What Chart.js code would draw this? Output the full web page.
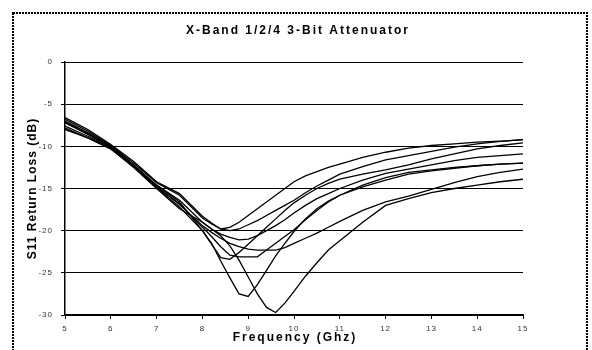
<!DOCTYPE html>
<html>
<head>
<meta charset="utf-8">
<script src="https://cdn.jsdelivr.net/npm/chart.js@4"></script>
<style>
  html, body { margin: 0; padding: 0; background: #fff; }
  #wrap { width: 592px; height: 350px; }
</style>
</head>
<body>
<div id="wrap"><canvas id="atten-chart" width="592" height="350"></canvas></div>
<script>
// Frequency points (GHz)
const freq = [5, 5.5, 6, 6.5, 7, 7.5, 8, 8.2, 8.4, 8.6, 8.8, 9.0, 9.2, 9.4, 9.6, 9.8, 10, 10.25, 10.5, 10.75, 11, 11.5, 12, 12.5, 13, 13.5, 14, 14.5, 15];

// S11 (dB) for each of the 8 attenuator states
const state1 = [-6.6, -8.0, -9.8, -11.8, -14.2, -15.6, -18.3, -19.1, -19.8, -19.6, -19.0, -18.2, -17.4, -16.6, -15.8, -15.0, -14.2, -13.5, -13.0, -12.5, -12.1, -11.3, -10.7, -10.2, -9.9, -9.7, -9.5, -9.4, -9.2];
const state2 = [-6.8, -8.2, -9.9, -12.0, -14.3, -15.8, -18.5, -19.2, -19.8, -20.0, -19.8, -19.3, -18.8, -18.2, -17.6, -17.0, -16.4, -15.5, -14.7, -14.0, -13.3, -12.4, -11.6, -11.1, -10.6, -10.1, -9.7, -9.4, -9.2];
const state3 = [-7.0, -8.4, -10.0, -12.2, -14.6, -16.6, -20.0, -21.6, -23.2, -23.4, -22.6, -21.6, -20.6, -19.6, -18.6, -17.6, -16.7, -15.8, -15.0, -14.4, -13.9, -13.3, -12.8, -12.2, -11.5, -10.9, -10.3, -9.9, -9.6];
const state4 = [-7.1, -8.5, -10.1, -12.3, -14.6, -16.4, -19.0, -19.8, -20.4, -20.8, -21.1, -21.0, -20.6, -20.0, -19.4, -18.7, -17.9, -17.0, -16.2, -15.6, -15.0, -14.0, -13.2, -12.7, -12.2, -11.7, -11.3, -11.1, -10.9];
const state5 = [-7.2, -8.6, -10.2, -12.4, -14.8, -16.8, -19.6, -20.7, -21.9, -22.9, -23.1, -23.1, -23.1, -22.3, -21.5, -20.7, -19.9, -18.7, -17.6, -16.6, -15.8, -14.6, -13.7, -13.1, -12.8, -12.5, -12.3, -12.1, -12.0];
const state6 = [-7.6, -8.8, -10.2, -12.3, -14.9, -17.2, -20.0, -21.5, -23.6, -25.6, -27.5, -27.8, -26.4, -24.7, -23.0, -21.5, -20.1, -18.6, -17.4, -16.5, -15.8, -14.8, -14.0, -13.3, -12.9, -12.6, -12.3, -12.1, -12.0];
const state7 = [-7.8, -9.0, -10.3, -12.4, -14.8, -16.9, -19.4, -20.2, -20.9, -21.5, -21.9, -22.2, -22.3, -22.3, -22.3, -22.0, -21.5, -20.9, -20.3, -19.6, -18.9, -17.6, -16.6, -15.9, -15.1, -14.3, -13.6, -13.1, -12.7];
const state8 = [-8.0, -9.0, -10.3, -12.5, -15.0, -17.4, -19.0, -19.8, -20.6, -21.8, -23.5, -25.5, -27.5, -29.1, -29.7, -28.6, -27.2, -25.4, -23.8, -22.3, -21.2, -19.0, -17.0, -16.2, -15.5, -15.0, -14.6, -14.2, -13.9];

const yTicks = [0, -5, -10, -15, -20, -25, -30];
const xTicks = [5, 6, 7, 8, 9, 10, 11, 12, 13, 14, 15];

const chartTitle = 'X-Band 1/2/4 3-Bit Attenuator';
const xTitle = 'Frequency (Ghz)';
const yTitle = 'S11 Return Loss (dB)';

const states = [state1, state2, state3, state4, state5, state6, state7, state8];

function toPoints(values) {
    return values.map((v, i) => ({ x: freq[i], y: v }));
}

const FONT = 'Arial, "Liberation Sans", sans-serif';

// Spaced-out text like the original Excel export, plus the dotted frame
const decorPlugin = {
    id: 'decor',
    beforeDraw(chart) {
        chart.ctx.letterSpacing = '1px';
    },
    afterDraw(chart) {
        const ctx = chart.ctx;
        const area = chart.chartArea;
        ctx.save();
        ctx.fillStyle = '#000';
        ctx.textAlign = 'center';
        ctx.textBaseline = 'middle';
        ctx.font = 'bold 12px ' + FONT;

        ctx.letterSpacing = '2px';
        ctx.fillText(chartTitle, 298, 31);
        ctx.fillText(xTitle, (area.left + area.right) / 2 + 1, 338);

        ctx.letterSpacing = '1px';
        ctx.translate(33, (area.top + area.bottom) / 2);
        ctx.rotate(-Math.PI / 2);
        ctx.fillText(yTitle, 0, 0);
        ctx.restore();

        ctx.save();
        ctx.letterSpacing = '0px';
        ctx.strokeStyle = '#000';
        ctx.lineWidth = 2;
        ctx.setLineDash([2, 1]);
        ctx.strokeRect(13, 13, 574, 345);
        ctx.restore();
    }
};

const tickFont = { family: FONT, size: 8 };

new Chart(document.getElementById('atten-chart'), {
    type: 'line',
    data: {
        datasets: states.map((s, i) => ({
            label: 'State ' + (i + 1),
            data: toPoints(s),
            borderColor: '#000',
            borderWidth: 1.3,
            pointRadius: 0,
            tension: 0,
            fill: false
        }))
    },
    options: {
        responsive: false,
        animation: false,
        layout: {
            padding: { left: 14, right: 69, top: 62, bottom: 0 }
        },
        plugins: {
            legend: { display: false },
            tooltip: { enabled: false },
            title: { display: false }
        },
        scales: {
            x: {
                type: 'linear',
                min: 5,
                max: 15,
                afterBuildTicks(scale) {
                    scale.ticks = xTicks.map(v => ({ value: v }));
                },
                afterFit(scale) {
                    scale.height = 35;
                },
                ticks: {
                    font: tickFont,
                    color: '#333',
                    padding: 5,
                    maxRotation: 0
                },
                grid: {
                    drawOnChartArea: false,
                    drawTicks: true,
                    tickLength: 4,
                    tickColor: '#000'
                },
                border: {
                    color: '#000',
                    width: 2,
                    dash: [2, 1]
                }
            },
            y: {
                min: -30,
                max: 0,
                afterBuildTicks(scale) {
                    scale.ticks = yTicks.map(v => ({ value: v }));
                },
                afterFit(scale) {
                    scale.width = 51;
                },
                ticks: {
                    font: tickFont,
                    color: '#333',
                    padding: 8
                },
                grid: {
                    color: '#000',
                    lineWidth: 1,
                    borderDash: [2, 1],
                    tickLength: 4,
                    tickColor: '#000',
                    tickBorderDash: []
                },
                border: {
                    color: '#000',
                    width: 1.5
                }
            }
        }
    },
    plugins: [decorPlugin]
});
</script>
</body>
</html>
